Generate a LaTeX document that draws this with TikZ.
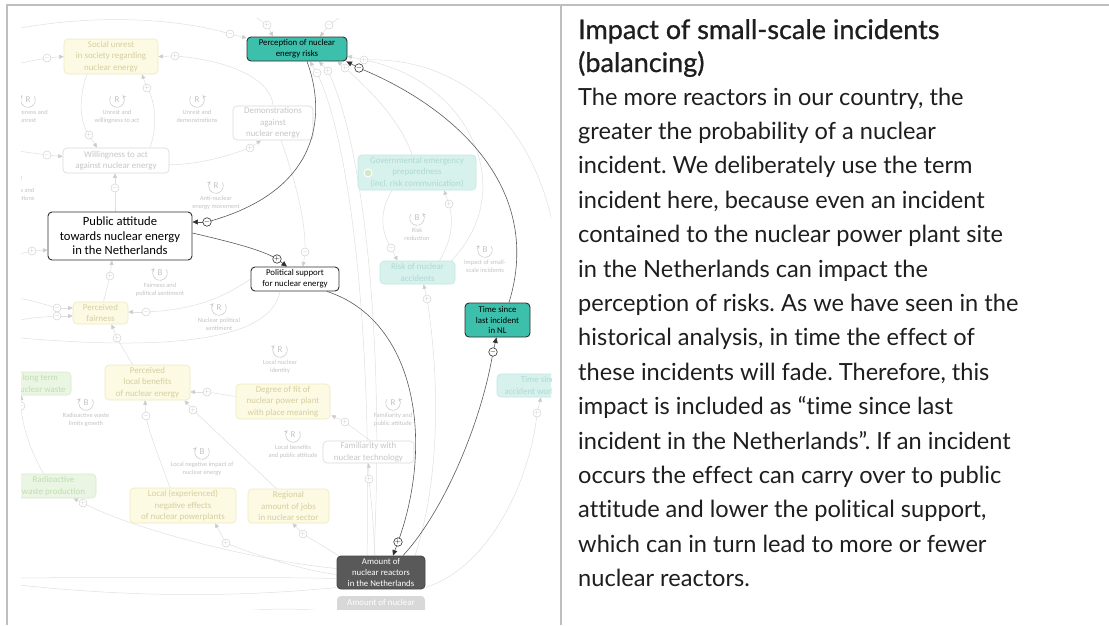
\documentclass[tikz,border=0pt]{standalone}
\usepackage{fontspec}
\usetikzlibrary{arrows.meta,calc}
\newfontfamily\dfont{Carlito}
\newfontfamily\bodyfont{Lato}[Ligatures=NoCommon]
\newfontfamily\titlefont{Lato}[FakeBold=0.8,Ligatures=NoCommon]
\frenchspacing

\definecolor{hotedge}{HTML}{303030}
\definecolor{hotline}{HTML}{5A5A5A}
\definecolor{tealhot}{HTML}{3CBFAB}
\definecolor{darkbox}{HTML}{595959}
\definecolor{yfill}{HTML}{FCFAE2}
\definecolor{yedge}{HTML}{EEE9C2}
\definecolor{ytext}{HTML}{D6CDA2}
\definecolor{wedge}{HTML}{DADADA}
\definecolor{wtext}{HTML}{C6C6C6}
\definecolor{tfill}{HTML}{D7F1ED}
\definecolor{tedge}{HTML}{C3E7E2}
\definecolor{ttext}{HTML}{AEDAD3}
\definecolor{gfill}{HTML}{EAF6E3}
\definecolor{gedge}{HTML}{D5EBC9}
\definecolor{gtext}{HTML}{BFDDB2}
\definecolor{amtfade}{HTML}{D8D8D8}
\definecolor{fline}{HTML}{E0E0E0}
\definecolor{ftip}{HTML}{CDCDCD}
\definecolor{fcirc}{HTML}{D2D2D2}
\definecolor{fsign}{HTML}{C2C2C2}
\definecolor{loopc}{HTML}{CDCDCD}
\definecolor{looptext}{HTML}{C4C4C4}
\definecolor{framec}{HTML}{BEBEBE}
\definecolor{bodyc}{HTML}{1E1E1E}

\pgfdeclarelayer{bg}
\pgfdeclarelayer{top}
\pgfsetlayers{bg,main,top}

\tikzset{
  cbox/.style={rounded corners=4pt, align=center, inner sep=0pt, line width=0.6pt},
  hot/.style={cbox, draw=hotedge, line width=0.9pt, text=black,
    font=\dfont\fontsize{8.8}{10.9}\selectfont},
  faded/.style={cbox, font=\dfont\fontsize{8.9}{11.4}\selectfont},
  fy/.style={faded, draw=yedge, fill=yfill, text=ytext},
  fw/.style={faded, draw=wedge, fill=white, text=wtext},
  ft/.style={faded, draw=tedge, fill=tfill, text=ttext},
  fg/.style={faded, draw=gedge, fill=gfill, text=gtext},
  fl/.style={draw=fline, line width=0.5pt},
  ftp/.style={draw=fline, line width=0.5pt, -{Triangle[length=4.5pt,width=4pt,color=ftip]}},
  hl/.style={draw=hotline, line width=0.6pt},
  htp/.style={draw=hotline, line width=0.6pt, -{Triangle[length=5.5pt,width=5pt,color=hotedge]}},
  pc/.style={circle, draw=hotedge, fill=white, line width=0.6pt, minimum size=8.5pt,
    inner sep=0pt, font=\fontsize{7}{7}\selectfont},
  fpc/.style={circle, draw=fcirc, fill=white, line width=0.5pt, minimum size=8pt,
    inner sep=0pt, text=fsign, font=\fontsize{6.5}{6.5}\selectfont},
  loopln/.style={draw=loopc, line width=0.6pt, -{Stealth[length=3.2pt,width=3.8pt]}},
  loopR/.pic={\draw[loopln, yscale=-1] (150:7.3) arc[start angle=150, end angle=400, radius=7.3];},
  loopL/.pic={\draw[loopln, yscale=-1] (30:7.3) arc[start angle=30, end angle=-220, radius=7.3];},
  looplet/.style={font=\dfont\fontsize{9}{9}\selectfont, text=looptext, inner sep=0pt},
  looplab/.style={font=\dfont\fontsize{6.4}{8.6}\selectfont, text=looptext, align=center, inner sep=0pt},
  txtline/.style={anchor=base west, inner sep=0pt, text=bodyc, font=\bodyfont\fontsize{23.6}{28}\selectfont},
  ttlline/.style={anchor=base west, inner sep=0pt, text=bodyc, font=\titlefont\fontsize{27}{30}\selectfont},
  frame/.style={draw=framec, line width=2pt}
}

\begin{document}
\begin{tikzpicture}[x=1pt,y=-1pt]
\useasboundingbox (0,0) rectangle (1109,625);
\begin{pgfonlayer}{bg}
\fill[white] (0,0) rectangle (1109,625);
\end{pgfonlayer}

% ---------- diagram variables ----------
\begin{scope}
\clip (21,18) rectangle (551,609);
% background variables
\node[fy, minimum width=94pt, minimum height=35pt] (soc) at (111,56.5) {Social unrest\\in society regarding\\nuclear energy};
\node[fw, minimum width=106pt, minimum height=25pt] (will) at (116,160.5) {Willingness to act\\against nuclear energy};
\node[fw, minimum width=80pt, minimum height=34pt] (demo) at (273,123) {Demonstrations\\against\\nuclear energy};
\node[ft, minimum width=118pt, minimum height=35pt] (gov) at (417,172.5) {Governmental emergency\\preparedness\\(incl. risk communication)};
\node[circle, fill=gtext!70, draw=white, line width=1pt, minimum size=8pt, inner sep=0pt] (govdot) at (368,173) {};
\node[ft, minimum width=75pt, minimum height=23pt] (risk) at (417.5,272.5) {Risk of nuclear\\accidents};
\node[fy, minimum width=55pt, minimum height=22pt] (fair) at (100.5,313) {Perceived\\fairness};
\node[fy, minimum width=85pt, minimum height=35pt] (ben) at (147.5,382.5) {Perceived\\local benefits\\of nuclear energy};
\node[fg, minimum width=61pt, minimum height=23pt] (ltw) at (40.5,383.5) {long term\\nuclear waste};
\node[fg, minimum width=85pt, minimum height=24pt] (rad) at (53.5,486) {Radioactive\\waste production};
\node[fy, minimum width=106pt, minimum height=35pt] (neg) at (183,505.5) {Local (experienced)\\negative effects\\of nuclear powerplants};
\node[fy, minimum width=81pt, minimum height=34pt] (jobs) at (288.5,506) {Regional\\amount of jobs\\in nuclear sector};
\node[fy, minimum width=94pt, minimum height=35pt] (fit) at (283,401.5) {Degree of fit of\\nuclear power plant\\with place meaning};
\node[fw, minimum width=91pt, minimum height=22pt] (fam) at (368.5,452) {Familiarity with\\nuclear technology};
\node[ft, minimum width=86pt, minimum height=23pt] (tsw) at (540,385.5) {Time since\\accident worldwide};
\node[cbox, fill=amtfade, minimum width=88pt, minimum height=33pt] (amtw) at (381,612.5) {};
\node[font=\dfont\fontsize{8.9}{11}\selectfont, text=white, inner sep=0pt] (amtwt) at (381,602) {Amount of nuclear};

% highlighted loop variables
\node[hot, fill=tealhot, minimum width=100pt, minimum height=24pt] (perc) at (297,49) {Perception of nuclear\\energy risks};
\node[hot, fill=white, minimum width=144pt, minimum height=48pt,
  font=\dfont\fontsize{12.6}{14.6}\selectfont] (pub) at (120,236) {Public attitude\\towards nuclear energy\\in the Netherlands};
\node[hot, fill=white, minimum width=88pt, minimum height=24pt] (pol) at (295,279) {Political support\\for nuclear energy};
\node[hot, fill=tealhot, minimum width=65pt, minimum height=34pt] (tnl) at (497.5,320) {Time since\\last incident\\in NL};
\node[hot, fill=darkbox, draw=darkbox!80!black, text=white, minimum width=88pt, minimum height=33pt] (amt) at (381,572.5) {Amount of\\nuclear reactors\\in the Netherlands};

% loop markers
\foreach \lx/\ly/\lt/\ld/\lab [count=\k] in {
  28/100/R/L/{Awareness and\\unrest},
  117/100/R/R/{Unrest and\\willingness to act},
  197/100/R/R/{Unrest and\\demonstrations},
  14/178/R/L/{Willingness and\\demonstrations},
  216/186/R/L/{Anti-nuclear\\energy movement},
  160/273/B/L/{Fairness and\\political sentiment},
  219/308/R/L/{Nuclear political\\sentiment},
  280/350/R/L/{Local nuclear\\identity},
  86/403/B/L/{Radioactive waste\\limits growth},
  202/452/B/L/{Local negative impact of\\nuclear energy},
  293/435/R/L/{Local benefits\\and public attitude},
  393/403/R/R/{Familiarity and\\public attitude},
  417/218/B/R/{Risk\\reduction},
  485/250/B/L/{Impact of small-\\scale incidents}}
{
  \pic at (\lx,\ly) {loop\ld};
  \node[looplet] (lpc\k) at (\lx,\ly) {\lt};
  \node[looplab, anchor=north] (lpl\k) at (\lx,\ly+9.5) {\lab};
}
\end{scope}

% ---------- faded connectors ----------
\begin{pgfonlayer}{bg}
\begin{scope}
\clip (21,18) rectangle (551,609);
\coordinate (w1) at (10,30);   \coordinate (c1) at (230,34);
\draw[fl] (w1) .. controls (100,12) and (185,20) .. (c1);
\draw[ftp] (c1) -- ($(perc.west)+(0,-11)$);

\coordinate (w2) at (10,66);   \coordinate (c2) at (47,58);
\draw[fl] (w2) .. controls (25,62) .. (c2);
\draw[ftp] (c2) -- (soc.west);

\coordinate (c3) at (175,56);
\draw[fl] (demo.north) .. controls (272,80) and (230,60) .. (c3);
\draw[ftp] (c3) -- (soc.east);

\coordinate (c4) at (89,135);
\draw[fl] ($(soc.south)+(-24,0)$) .. controls (78,100) and (80,122) .. (c4);
\draw[ftp] (c4) -- ($(will.north)+(-19,0)$);

\coordinate (c5) at (147,88);
\draw[fl] ($(will.north)+(34,0)$) .. controls (158,125) and (155,100) .. (c5);
\draw[ftp] (c5) -- ($(soc.south)+(31,0)$);

\coordinate (w6) at (10,150);  \coordinate (c6) at (47,155);
\draw[fl] (w6) .. controls (25,152) .. (c6);
\draw[ftp] (c6) -- ($(will.west)+(0,-4)$);

\coordinate (c7) at (250,148);
\draw[fl] ($(will.east)+(0,4)$) .. controls (200,165) and (230,155) .. (c7);
\draw[ftp] (c7) -- ($(demo.south)+(-12,0)$);

\coordinate (c8) at (115,188);
\draw[fl] ($(pub.north)+(-5,0)$) -- (c8);
\draw[ftp] (c8) -- ($(will.south)+(-1,0)$);

\coordinate (w9) at (10,256);  \coordinate (c9) at (32,251);
\draw[fl] (w9) -- (c9);
\draw[ftp] (c9) -- ($(pub.west)+(0,14)$);

\coordinate (c10) at (110,276);
\draw[fl] ($(fair.north)+(3,0)$) -- (c10);
\draw[ftp] (c10) -- ($(pub.south)+(-8,0)$);

\coordinate (w11) at (10,297); \coordinate (c11) at (57,308);
\draw[fl] (w11) .. controls (30,300) .. (c11);
\draw[ftp] (c11) -- ($(fair.west)+(0,-5)$);
\coordinate (w12) at (10,322); \coordinate (c12) at (57,316);
\draw[fl] (w12) .. controls (30,318) .. (c12);
\draw[ftp] (c12) -- ($(fair.west)+(0,3)$);

\coordinate (c13) at (146,312);
\draw[fl] (pol.west) .. controls (220,300) and (190,310) .. (c13);
\draw[ftp] (c13) -- ($(fair.east)+(0,-1)$);

\coordinate (c14) at (117,338);
\draw[fl] ($(ben.north)+(-15,0)$) -- (c14);
\draw[ftp] (c14) -- ($(fair.south)+(11,0)$);

\coordinate (w15) at (10,337);
\draw[fl] ($(pol.south)+(-15,0)$) .. controls (270,345) and (150,350) .. (w15);

\coordinate (c16) at (207,392);
\draw[fl] ($(fit.west)+(0,-5)$) -- (c16);
\draw[ftp] (c16) -- ($(ben.east)+(0,9.5)$);

\coordinate (c17) at (146,416);
\draw[fl] ($(neg.north)+(-13,0)$) .. controls (160,460) and (148,430) .. (c17);
\draw[ftp] (c17) -- ($(ben.south)+(-2.5,0)$);

\coordinate (c18) at (193,410);
\draw[fl] ($(jobs.north)+(-12,0)$) -- (c18);
\draw[ftp] (c18) -- ($(ben.south)+(37,0)$);

\coordinate (c19) at (21,406);
\draw[fl] ($(rad.north)+(-10,0)$) .. controls (30,450) and (22,425) .. (c19);
\draw[ftp] (c19) -- ($(ltw.south)+(-19,0)$);

\coordinate (c20) at (83,503);
\draw[fl] ($(amt.west)+(0,-4)$) .. controls (250,560) and (130,528) .. (c20);
\draw[ftp] (c20) -- ($(rad.south)+(20,0)$);

\coordinate (c21) at (226,543);
\draw[fl] ($(amt.west)+(0,2)$) .. controls (300,570) and (250,553) .. (c21);
\draw[ftp] (c21) -- ($(neg.south)+(32,0)$);

\coordinate (c22) at (303,534);
\draw[fl] ($(amt.north west)+(2,0)$) -- (c22);
\draw[ftp] (c22) -- ($(jobs.south)+(4,0)$);

\coordinate (c23) at (369,479);
\draw[fl] ($(amt.north)+(-6,0)$) .. controls (373,520) .. (c23);
\draw[ftp] (c23) -- (fam.south);

\coordinate (c24) at (345,422);
\draw[fl] ($(fam.north)+(2,0)$) -- (c24);
\draw[ftp] (c24) -- ($(fit.south east)+(1,-4)$);

\coordinate (c25) at (537,413);
\draw[fl] ($(amt.east)+(0,15)$) .. controls (495,565) and (532,470) .. (c25);
\draw[ftp] (c25) -- ($(tsw.south)+(1,0)$);

\coordinate (c26) at (427,299);
\draw[fl] ($(amt.north)+(34,0)$) .. controls (440,480) and (440,380) .. (c26);
\draw[ftp] (c26) -- ($(risk.south)+(6,0)$);

\coordinate (c27) at (391,248);
\draw[fl] ($(gov.south)+(-25,0)$) .. controls (380,210) and (380,230) .. (c27);
\draw[ftp] (c27) -- ($(risk.north)+(-20,0)$);

\coordinate (c28) at (449,204);
\draw[fl] ($(risk.north)+(22,0)$) .. controls (455,235) and (452,215) .. (c28);
\draw[ftp] (c28) -- ($(gov.south)+(27,0)$);

\coordinate (c29) at (305,252);
\draw[fl] ($(demo.south)+(8,0)$) .. controls (295,180) and (306,220) .. (c29);
\draw[ftp] (c29) -- ($(pol.north)+(8,0)$);

\coordinate (c30) at (317,73);
\draw[fl] ($(amt.north)+(-14,0)$) .. controls (372,330) and (350,140) .. (c30);
\draw[ftp] (c30) -- ($(perc.south)+(13,0)$);

\coordinate (c31) at (328,71);
\draw[fl] ($(amt.north)+(-7,0)$) .. controls (385,330) and (362,140) .. (c31);
\draw[ftp] (c31) -- ($(perc.south)+(22,0)$);

\coordinate (c32) at (345,68);
\draw[fl] ($(gov.north)+(-5,0)$) .. controls (400,120) and (370,90) .. (c32);
\draw[ftp] (c32) -- ($(perc.south east)+(-10,0)$);

\coordinate (c33) at (364,60);
\coordinate (w33) at (560,330);
\draw[fl] ($(risk.north east)+(-4,0)$) .. controls (520,190) and (470,80) .. (c33);
\draw[fl] (w33) .. controls (570,140) and (470,55) .. (c33);
\draw[ftp] (c33) -- ($(perc.east)+(0,7)$);

\coordinate (w34) at (245,10); \coordinate (c34) at (267,25);
\draw[fl] (w34) -- (c34);
\draw[ftp] (c34) -- ($(perc.north)+(-24,0)$);
\coordinate (w35) at (350,10); \coordinate (c35) at (329,25);
\draw[fl] (w35) -- (c35);
\draw[ftp] (c35) -- ($(perc.north)+(23,0)$);

\coordinate (w36) at (10,578);
\draw[fl] (w36) .. controls (150,577) and (280,577) .. ($(amt.west)+(0,6)$);
\coordinate (w37) at (10,584);
\draw[fl] (w37) .. controls (150,600) and (260,595) .. ($(amt.west)+(0,15)$);
\coordinate (w38) at (150,625);
\draw[fl] (w38) .. controls (230,608) and (290,606) .. (amtw.west);
\end{scope}
\end{pgfonlayer}

% ---------- highlighted connectors and polarity markers ----------
\begin{pgfonlayer}{top}
\begin{scope}
\clip (21,18) rectangle (551,609);
\coordinate (pA) at (207,222);
\draw[hl] ($(perc.south)+(10,0)$) .. controls (325,110) and (325,190) .. (pA);
\draw[htp] (pA) -- (pA -| pub.east);

\coordinate (pB) at (277,259);
\draw[hl] ($(pub.east)+(0,-3)$) .. controls (235,243) and (262,250) .. (pB);
\draw[htp] (pB) -- ($(pol.north)+(-8,0)$);

\coordinate (pC) at (398,542);
\draw[hl] ($(pol.south)+(32,0)$) .. controls (415,320) and (435,440) .. (pC);
\draw[htp] (pC) -- ($(amt.north)+(12,0)$);

\coordinate (pD) at (493,352);
\draw[hl] ($(amt.north)+(22,0)$) .. controls (445,510) and (482,420) .. (pD);
\draw[htp] (pD) -- ($(tnl.south)+(-1,0)$);

\coordinate (pE) at (359,68);
\draw[hl] ($(tnl.north)+(11.5,0)$) .. controls (545,185) and (450,105) .. (pE);
\draw[htp] (pE) -- ($(perc.south east)+(-1,0)$);

\foreach \c/\s in {c1/-,c2/-,c3/+,c4/+,c5/+,c6/-,c7/+,c8/-,c9/+,c10/+,c11/-,c12/-,
  c13/-,c14/+,c16/+,c17/-,c18/+,c19/+,c20/+,c21/+,c22/+,c23/+,c24/+,c25/+,c26/+,
  c27/-,c28/+,c29/-,c30/-,c31/+,c32/+,c33/+,c34/+,c35/-}
  \node[fpc] (n\c) at (\c) {$\s$};
\foreach \c/\s in {pA/-,pB/+,pC/+,pD/-,pE/-}
  \node[pc] (n\c) at (\c) {$\s$};
\end{scope}
\end{pgfonlayer}

% ---------- panel frame ----------
\draw[frame] (7,625) -- (7,5) -- (1109,5);
\draw[frame] (561,5) -- (561,625);

% ---------- description ----------
\node[ttlline] (ttl1) at (578,39) {Impact of small-scale incidents};
\node[ttlline] (ttl2) at (578,72) {(balancing)};
\foreach \ln [count=\i] in {
  {The more reactors in our country, the},
  {greater the probability of a nuclear},
  {incident. We deliberately use the term},
  {incident here, because even an incident},
  {contained to the nuclear power plant site},
  {in the Netherlands can impact the},
  {perception of risks. As we have seen in the},
  {historical analysis, in time the effect of},
  {these incidents will fade. Therefore, this},
  {impact is included as “time since last},
  {incident in the Netherlands”. If an incident},
  {occurs the effect can carry over to public},
  {attitude and lower the political support,},
  {which can in turn lead to more or fewer},
  {nuclear reactors.}}
  \node[txtline] (ln\i) at (578,{105+34.4*(\i-1)}) {\ln};
\end{tikzpicture}
\end{document}
